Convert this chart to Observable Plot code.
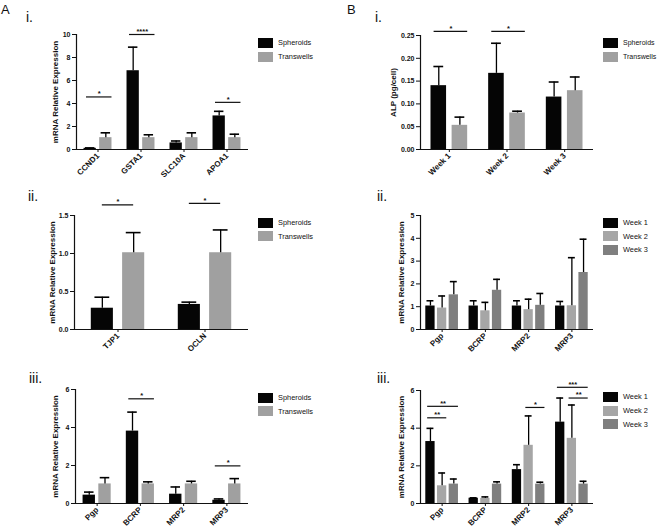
<!DOCTYPE html>
<html><head><meta charset="utf-8">
<script src="https://cdn.jsdelivr.net/npm/d3@7"></script>
<script src="https://cdn.jsdelivr.net/npm/@observablehq/plot@0.6"></script>
<style>
body{margin:0;background:#fff;}
#fig{position:relative;width:658px;height:530px;overflow:hidden;font-family:"Liberation Sans",Arial,sans-serif;background:#fff;}
.lab{position:absolute;line-height:1;color:#111;white-space:nowrap;}
.box{position:absolute;}
</style></head><body><div id="fig"></div>
<script>
// ---------- DATA ----------
// A.i
const aiCats = ["CCND1", "GSTA1", "SLC10A", "APOA1"];
const aiSpheroids = [0.10, 6.85, 0.57, 2.92];
const aiSpheroidsErr = [0.04, 2.05, 0.17, 0.40];
const aiTranswells = [1.03, 1.03, 1.03, 1.03];
const aiTranswellsErr = [0.42, 0.25, 0.42, 0.30];
const aiSig = [{cat: 0, from: "Spheroids", to: "Transwells", y: 4.57, label: "*"},
               {cat: 1, from: "Spheroids", to: "Transwells", y: 10.0, label: "****"},
               {cat: 3, from: "Spheroids", to: "Transwells", y: 4.1, label: "*"}];
// A.ii
const aiiCats = ["TJP1", "OCLN"];
const aiiSpheroids = [0.28, 0.33];
const aiiSpheroidsErr = [0.145, 0.03];
const aiiTranswells = [1.01, 1.01];
const aiiTranswellsErr = [0.265, 0.30];
const aiiSig = [{cat: 0, from: "Spheroids", to: "Transwells", y: 1.64, label: "*"},
                {cat: 1, from: "Spheroids", to: "Transwells", y: 1.66, label: "*"}];
// A.iii
const aiiiCats = ["Pgp", "BCRP", "MRP2", "MRP3"];
const aiiiSpheroids = [0.44, 3.81, 0.49, 0.17];
const aiiiSpheroidsErr = [0.16, 1.00, 0.38, 0.07];
const aiiiTranswells = [1.03, 1.03, 1.03, 1.03];
const aiiiTranswellsErr = [0.33, 0.11, 0.14, 0.28];
const aiiiSig = [{cat: 1, from: "Spheroids", to: "Transwells", y: 5.51, label: "*"},
                 {cat: 3, from: "Spheroids", to: "Transwells", y: 1.98, label: "*"}];
// B.i
const biCats = ["Week 1", "Week 2", "Week 3"];
const biSpheroids = [0.140, 0.167, 0.115];
const biSpheroidsErr = [0.042, 0.066, 0.033];
const biTranswells = [0.053, 0.080, 0.129];
const biTranswellsErr = [0.018, 0.004, 0.030];
const biSig = [{cat: 0, from: "Spheroids", to: "Transwells", y: 0.259, label: "*"},
               {cat: 1, from: "Spheroids", to: "Transwells", y: 0.259, label: "*"}];
// B.ii
const biiCats = ["Pgp", "BCRP", "MRP2", "MRP3"];
const biiWeek1 = [1.03, 1.03, 1.03, 1.03];
const biiWeek1Err = [0.23, 0.23, 0.23, 0.20];
const biiWeek2 = [0.94, 0.82, 0.87, 1.04];
const biiWeek2Err = [0.53, 0.37, 0.46, 2.11];
const biiWeek3 = [1.52, 1.72, 1.06, 2.50];
const biiWeek3Err = [0.58, 0.48, 0.52, 1.46];
// B.iii
const biiiCats = ["Pgp", "BCRP", "MRP2", "MRP3"];
const biiiWeek1 = [3.29, 0.28, 1.80, 4.32];
const biiiWeek1Err = [0.70, 0.02, 0.26, 1.28];
const biiiWeek2 = [0.94, 0.27, 3.09, 3.46];
const biiiWeek2Err = [0.68, 0.08, 1.56, 1.77];
const biiiWeek3 = [1.03, 1.03, 1.03, 1.03];
const biiiWeek3Err = [0.27, 0.12, 0.10, 0.15];
const biiiSig = [{cat: 0, from: "Week 1", to: "Week 2", y: 4.55, label: "**"},
                 {cat: 0, from: "Week 1", to: "Week 3", y: 5.16, label: "**"},
                 {cat: 2, from: "Week 2", to: "Week 3", y: 5.10, label: "*"},
                 {cat: 3, from: "Week 1", to: "Week 3", y: 6.17, label: "***"},
                 {cat: 3, from: "Week 2", to: "Week 3", y: 5.60, label: "**"}];

const twoSeries = ["Spheroids", "Transwells"];
const weekSeries = ["Week 1", "Week 2", "Week 3"];
const twoColors = ["#050505", "#a0a0a0"];
const weekColors = ["#050505", "#a6a6a6", "#7f7f7f"];

// ---------- DRAWING ----------
const fig = document.getElementById("fig");
const FONT = "'Liberation Sans', Arial, sans-serif";

function panel(cfg) {
  const {cats, series, colors, means, errs, sig, yDomain, yTicks, yFormat, yLabel,
         frame, box, barW, offsets, capW, sigExt, titleDx} = cfg;
  const n = cats.length;
  const rows = [];
  series.forEach((s, j) => cats.forEach((c, i) =>
    rows.push({i, j, s, v: means[j][i], e: errs[j][i], cx: i + offsets[j]})));
  const sigRows = sig.map(d => {
    const j1 = series.indexOf(d.from), j2 = series.indexOf(d.to);
    return {...d, x1: d.cat + offsets[j1] - barW * sigExt[0], x2: d.cat + offsets[j2] + barW * sigExt[1]};
  });
  const svg = Plot.plot({
    width: box.width, height: box.height,
    marginTop: frame.y0 - box.top, marginBottom: box.top + box.height - frame.y1,
    marginLeft: frame.x0 - box.left, marginRight: box.left + box.width - frame.x1,
    style: {fontFamily: FONT, background: "transparent", overflow: "visible", color: "#111"},
    x: {type: "linear", domain: [-0.5, n - 0.5]},
    y: {domain: yDomain},
    color: {domain: series, range: colors},
    marks: [
      Plot.rect(rows, {x1: d => d.cx - barW / 2, x2: d => d.cx + barW / 2, y1: d => 0, y2: "v", fill: "s"}),
      Plot.ruleX(rows, {x: "cx", y1: "v", y2: d => d.v + d.e, stroke: "#000", strokeWidth: 1.3}),
      Plot.ruleY(rows, {y: d => d.v + d.e, x1: d => d.cx - capW / 2, x2: d => d.cx + capW / 2, stroke: "#000", strokeWidth: 1.6}),
      Plot.ruleX([-0.5], {stroke: "#111", strokeWidth: 1.2}),
      Plot.ruleY([0], {stroke: "#111", strokeWidth: 1.2}),
      Plot.axisY({ticks: yTicks, tickFormat: yFormat, tickSize: 4, tickPadding: 2, fontSize: 7, fontWeight: "bold", fill: "#111", label: null}),
      Plot.axisX({ticks: d3.range(n), tickFormat: i => cats[i], tickRotate: -45, tickSize: 3, tickPadding: 2, fontSize: 8, fontWeight: "bold", fill: "#111", label: null}),
      Plot.text([yLabel], {text: d => d, frameAnchor: "left", textAnchor: "middle", rotate: -90, dx: titleDx, fontSize: 8, fontWeight: "bold", fill: "#111"}),
      Plot.ruleY(sigRows, {y: "y", x1: "x1", x2: "x2", stroke: "#111", strokeWidth: 1.2}),
      Plot.text(sigRows, {x: d => (d.x1 + d.x2) / 2, y: "y", text: "label", dy: -3, fontSize: 7.5, fontWeight: "bold", fill: "#111"})
    ]
  });
  const wrap = document.createElement("div");
  wrap.className = "box";
  wrap.style.left = box.left + "px";
  wrap.style.top = box.top + "px";
  wrap.appendChild(svg);
  fig.appendChild(wrap);
}

function legend(series, colors, left, firstCenter, fontSize) {
  const el = Plot.legend({color: {type: "ordinal", domain: series, range: colors},
    legend: "swatches", columns: 1, swatchWidth: 15, swatchHeight: 10});
  el.style.margin = "0";
  el.style.fontFamily = FONT;
  el.style.fontSize = fontSize + "px";
  el.style.color = "#111";
  el.style.width = "90px";
  el.style.maxWidth = "none";
  el.querySelectorAll("svg").forEach(s => {
    const row = s.parentElement;
    row.style.height = "13.6px";
    row.style.padding = "0";
    row.style.margin = "0";
    row.style.display = "flex";
    row.style.alignItems = "center";
    s.style.marginRight = "5px";
    s.style.flex = "none";
    Array.from(row.children).forEach(c => {
      if (c !== s) { c.style.maxWidth = "none"; c.style.overflow = "visible"; c.style.textOverflow = "clip"; }
    });
  });
  const wrap = document.createElement("div");
  wrap.className = "box";
  wrap.style.left = left + "px";
  wrap.style.top = (firstCenter - 6.8) + "px";
  wrap.style.width = "90px";
  wrap.appendChild(el);
  fig.appendChild(wrap);
}

function label(text, left, baseline, size) {
  const d = document.createElement("div");
  d.className = "lab";
  d.textContent = text;
  d.style.left = left + "px";
  d.style.top = (baseline - 0.8465 * size) + "px";
  d.style.fontSize = size + "px";
  fig.appendChild(d);
}

const twoBar = {barW: 0.286, offsets: [-0.182, 0.182], capW: 0.22, sigExt: [0.3, 0.5]};
const threeBar = {barW: 0.215, offsets: [-0.27, 0, 0.27], capW: 0.16, sigExt: [0.3, 0.5]};

panel({cats: aiCats, series: twoSeries, colors: twoColors,
  means: [aiSpheroids, aiTranswells], errs: [aiSpheroidsErr, aiTranswellsErr], sig: aiSig,
  yDomain: [0, 10], yTicks: [0, 2, 4, 6, 8, 10], yFormat: d3.format("d"), yLabel: "mRNA Relative Expression",
  frame: {x0: 76, x1: 248, y0: 34, y1: 149}, box: {left: 0, top: 0, width: 256, height: 192}, titleDx: -21, ...twoBar});

panel({cats: aiiCats, series: twoSeries, colors: twoColors,
  means: [aiiSpheroids, aiiTranswells], errs: [aiiSpheroidsErr, aiiTranswellsErr], sig: aiiSig,
  yDomain: [0, 1.5], yTicks: [0, 0.5, 1, 1.5], yFormat: d3.format(".1f"), yLabel: "mRNA Relative Expression",
  frame: {x0: 74, x1: 248, y0: 215, y1: 329}, box: {left: 0, top: 180, width: 256, height: 190}, titleDx: -22,
  barW: 0.254, offsets: [-0.18, 0.18], capW: 0.17, sigExt: [0, 0]});

panel({cats: aiiiCats, series: twoSeries, colors: twoColors,
  means: [aiiiSpheroids, aiiiTranswells], errs: [aiiiSpheroidsErr, aiiiTranswellsErr], sig: aiiiSig,
  yDomain: [0, 6], yTicks: [0, 2, 4, 6], yFormat: d3.format("d"), yLabel: "mRNA Relative Expression",
  frame: {x0: 75, x1: 248, y0: 389, y1: 503}, box: {left: 0, top: 355, width: 256, height: 175}, titleDx: -20, ...twoBar});

panel({cats: biCats, series: twoSeries, colors: twoColors,
  means: [biSpheroids, biTranswells], errs: [biSpheroidsErr, biTranswellsErr], sig: biSig,
  yDomain: [0, 0.25], yTicks: [0, 0.05, 0.1, 0.15, 0.2, 0.25], yFormat: d3.format(".2f"), yLabel: "ALP (pg/cell)",
  frame: {x0: 420, x1: 593, y0: 35, y1: 149}, box: {left: 335, top: 0, width: 266, height: 192}, titleDx: -27,
  barW: 0.27, offsets: [-0.183, 0.183], capW: 0.17, sigExt: [0.3, 0.5]});

panel({cats: biiCats, series: weekSeries, colors: weekColors,
  means: [biiWeek1, biiWeek2, biiWeek3], errs: [biiWeek1Err, biiWeek2Err, biiWeek3Err], sig: [],
  yDomain: [0, 5], yTicks: [0, 1, 2, 3, 4, 5], yFormat: d3.format("d"), yLabel: "mRNA Relative Expression",
  frame: {x0: 420, x1: 593, y0: 215, y1: 329}, box: {left: 335, top: 180, width: 266, height: 190}, titleDx: -19, ...threeBar});

panel({cats: biiiCats, series: weekSeries, colors: weekColors,
  means: [biiiWeek1, biiiWeek2, biiiWeek3], errs: [biiiWeek1Err, biiiWeek2Err, biiiWeek3Err], sig: biiiSig,
  yDomain: [0, 6], yTicks: [0, 2, 4, 6], yFormat: d3.format("d"), yLabel: "mRNA Relative Expression",
  frame: {x0: 420, x1: 593, y0: 390, y1: 503}, box: {left: 335, top: 355, width: 266, height: 175}, titleDx: -19, ...threeBar});

legend(twoSeries, twoColors, 258, 43, 7.4);
legend(twoSeries, twoColors, 258, 222.7, 7.4);
legend(twoSeries, twoColors, 258, 397.7, 7.4);
legend(twoSeries, twoColors, 603, 43, 7);
legend(weekSeries, weekColors, 603, 222.7, 7.4);
legend(weekSeries, weekColors, 603, 397, 7.4);

label("A", 1, 14, 13);
label("B", 347, 14, 13);
label("i.", 26, 22, 14);
label("i.", 375, 22, 14);
label("ii.", 28, 201, 14);
label("ii.", 377, 201, 14);
label("iii.", 29, 383, 14);
label("iii.", 377, 383, 14);
</script></body></html>
